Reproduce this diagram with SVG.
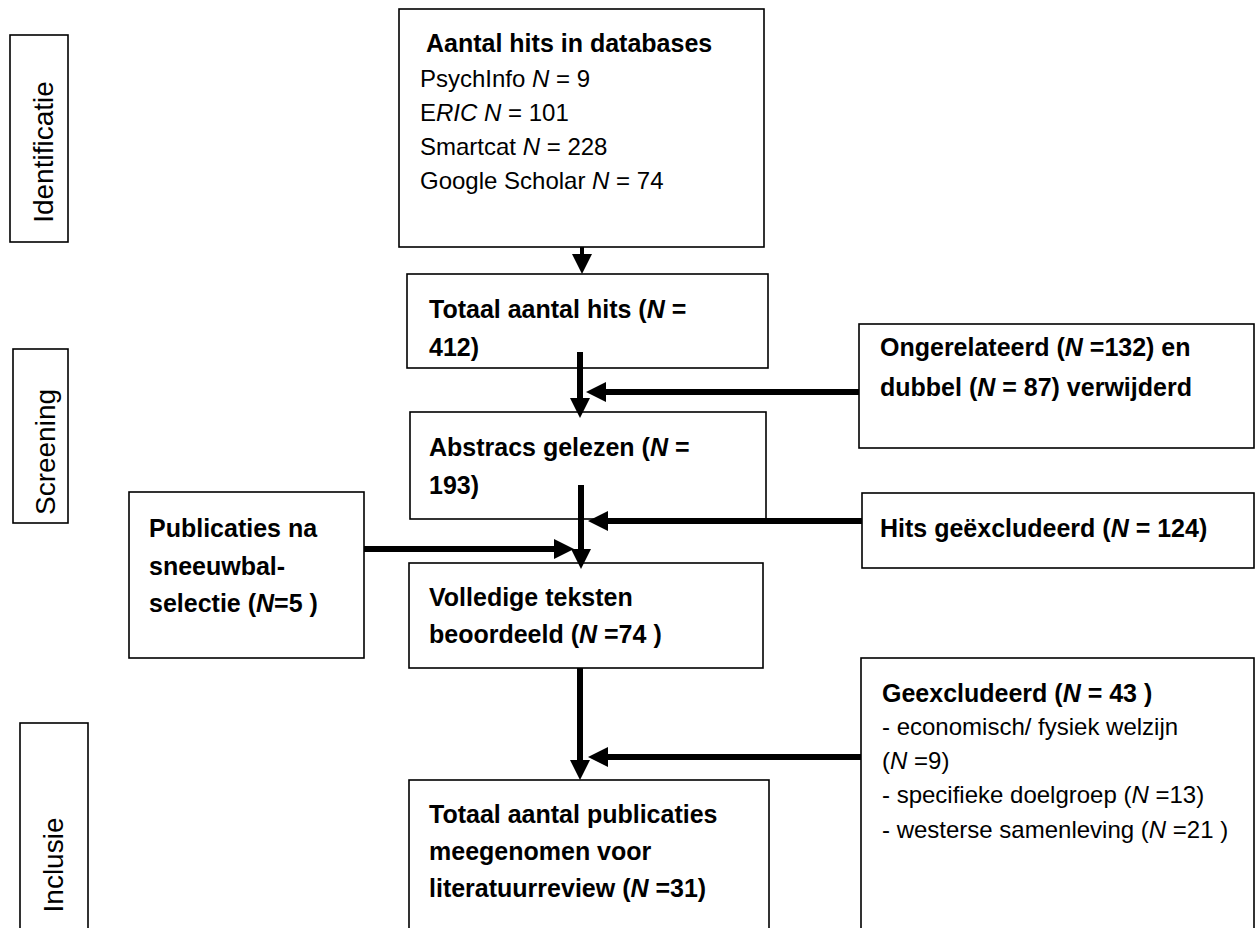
<svg xmlns="http://www.w3.org/2000/svg" width="1258" height="928" viewBox="0 0 1258 928">
<style>
.box{fill:#fff;stroke:#000;stroke-width:1.6}
.t{font-family:"Liberation Sans",Arial,sans-serif;font-size:24px;fill:#000}
.b{font-weight:bold;font-size:25px}
.side{font-family:"Liberation Sans",Arial,sans-serif;font-size:28px;fill:#000;text-anchor:middle}
.c{stroke:#000;stroke-width:6;fill:none}
.c1{stroke:#000;stroke-width:4;fill:none}
</style>
<defs>
<marker id="ah" markerUnits="userSpaceOnUse" markerWidth="20" markerHeight="20" refX="0" refY="9" orient="auto" viewBox="0 0 18 18">
<path d="M0,0 L18,9 L0,18 z" fill="#000"/>
</marker>
</defs>
<rect width="1258" height="928" fill="#fff"/>
<g id="stage-identificatie">
<rect class="box" x="10" y="35" width="58" height="207"/>
<text class="side" transform="translate(53,152) rotate(-90)">Identificatie</text>
</g>
<g id="stage-screening">
<rect class="box" x="13" y="349" width="55" height="174"/>
<text class="side" transform="translate(55,452) rotate(-90)">Screening</text>
</g>
<g id="stage-inclusie">
<rect class="box" x="20" y="723" width="68" height="220"/>
<text class="side" transform="translate(63,865) rotate(-90)">Inclusie</text>
</g>
<g id="n-databases">
<rect class="box" x="399" y="9" width="365" height="238"/>
<text class="t b" x="426" y="52">Aantal hits in databases</text>
<text class="t" x="420" y="87">PsychInfo <tspan font-style="italic">N</tspan> = 9</text>
<text class="t" x="420" y="121">E<tspan font-style="italic">RIC N</tspan> = 101</text>
<text class="t" x="420" y="155">Smartcat <tspan font-style="italic">N</tspan> = 228</text>
<text class="t" x="420" y="189">Google Scholar <tspan font-style="italic">N</tspan> = 74</text>
</g>
<g id="n-totaal">
<rect class="box" x="407" y="274" width="361" height="94"/>
<text class="t b" x="429" y="318">Totaal aantal hits (<tspan font-style="italic">N</tspan> =</text>
<text class="t b" x="429" y="356">412)</text>
</g>
<g id="n-abstracts">
<rect class="box" x="410" y="412" width="356" height="107"/>
<text class="t b" x="429" y="456">Abstracs gelezen (<tspan font-style="italic">N</tspan> =</text>
<text class="t b" x="429" y="494">193)</text>
</g>
<g id="n-volledig">
<rect class="box" x="409" y="563" width="354" height="105"/>
<text class="t b" x="429" y="606">Volledige teksten</text>
<text class="t b" x="429" y="643">beoordeeld (<tspan font-style="italic">N</tspan> =74 )</text>
</g>
<g id="n-inclusie">
<rect class="box" x="409" y="780" width="360" height="160"/>
<text class="t b" x="429" y="823">Totaal aantal publicaties</text>
<text class="t b" x="429" y="860">meegenomen voor</text>
<text class="t b" x="429" y="897">literatuurreview (<tspan font-style="italic">N</tspan> =31)</text>
</g>
<g id="n-sneeuwbal">
<rect class="box" x="129" y="492" width="235" height="166"/>
<text class="t b" x="149" y="537">Publicaties na</text>
<text class="t b" x="149" y="575">sneeuwbal-</text>
<text class="t b" x="149" y="612">selectie (<tspan font-style="italic">N</tspan>=5 )</text>
</g>
<g id="n-ongerelateerd">
<rect class="box" x="859" y="324" width="395" height="124"/>
<text class="t b" x="880" y="356">Ongerelateerd (<tspan font-style="italic">N</tspan> =132) en</text>
<text class="t b" x="880" y="396">dubbel (<tspan font-style="italic">N</tspan> = 87) verwijderd</text>
</g>
<g id="n-hits-excl">
<rect class="box" x="862" y="493" width="392" height="75"/>
<text class="t b" x="880" y="537">Hits geëxcludeerd (<tspan font-style="italic">N</tspan> = 124)</text>
</g>
<g id="n-geexcl">
<rect class="box" x="861" y="658" width="393" height="282"/>
<text class="t b" x="882" y="702">Geexcludeerd (<tspan font-style="italic">N</tspan> = 43 )</text>
<text class="t" x="882" y="735">- economisch/ fysiek welzijn</text>
<text class="t" x="882" y="769">(<tspan font-style="italic">N</tspan> =9)</text>
<text class="t" x="882" y="803">- specifieke doelgroep (<tspan font-style="italic">N</tspan> =13)</text>
<text class="t" x="882" y="838">- westerse samenleving (<tspan font-style="italic">N</tspan> =21 )</text>
</g>
<g id="connectors">
<line class="c1" x1="582" y1="247" x2="582" y2="254" marker-end="url(#ah)"/>
<line class="c" x1="580" y1="352" x2="580" y2="398" marker-end="url(#ah)"/>
<line class="c" x1="581" y1="485" x2="581" y2="549" marker-end="url(#ah)"/>
<line class="c" x1="580" y1="668" x2="580" y2="760" marker-end="url(#ah)"/>
<line class="c" x1="859" y1="392" x2="606" y2="392" marker-end="url(#ah)"/>
<line class="c" x1="862" y1="521" x2="608" y2="521" marker-end="url(#ah)"/>
<line class="c" x1="364" y1="549" x2="554" y2="549" marker-end="url(#ah)"/>
<line class="c" x1="861" y1="757" x2="608" y2="757" marker-end="url(#ah)"/>
</g>
</svg>
